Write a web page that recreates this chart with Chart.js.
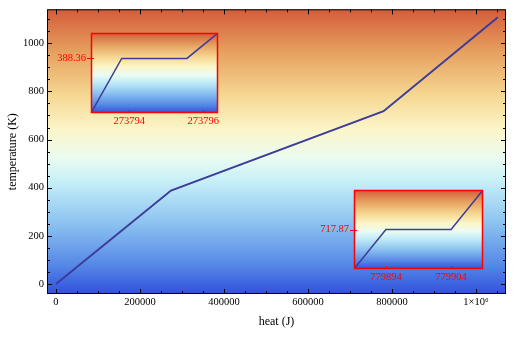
<!DOCTYPE html>
<html>
<head>
<meta charset="utf-8">
<script src="https://cdn.jsdelivr.net/npm/chart.js@4"></script>
<style>
    body { margin: 0; background: #fff; }
    #wrap { position: relative; width: 519px; height: 344px; }
    canvas { position: absolute; }
</style>
</head>
<body>
<div id="wrap">
    <canvas id="main" width="519" height="344" style="left:0;top:0"></canvas>
    <canvas id="inset1" width="175" height="109" style="left:50px;top:21px"></canvas>
    <canvas id="inset2" width="180" height="107" style="left:310px;top:178px"></canvas>
</div>
<script>
// main curve: heat (J) vs temperature (K)
const heat = [0, 273793.8, 273795.56, 779894, 779904, 1052000];
const temperature = [0, 388.36, 388.36, 717.87, 717.87, 1108];
const xTicks = [0, 200000, 400000, 600000, 800000, 1000000];
const yTicks = [0, 200, 400, 600, 800, 1000];

// zoom on first plateau
const inset1Heat = [273792.97, 273793.8, 273795.56, 273796.4];
const inset1Temp = [388.35882, 388.36, 388.36, 388.36055];
const inset1XTicks = [273794, 273796];
const inset1YTicks = [388.36];

// zoom on second plateau
const inset2Heat = [779889.1, 779894, 779904, 779908.9];
const inset2Temp = [717.8668, 717.87, 717.87, 717.8732];
const inset2XTicks = [779894, 779904];
const inset2YTicks = [717.87];

const serif = '"Liberation Serif", "Times New Roman", serif';
const lineColor = '#3d3d99';

// TemperatureMap-like background
const gradientStops = [
    [0, 'rgb(212,92,58)'],
    [0.15, 'rgb(230,160,95)'],
    [0.3, 'rgb(245,215,145)'],
    [0.42, 'rgb(252,245,200)'],
    [0.52, 'rgb(235,252,240)'],
    [0.6, 'rgb(200,240,248)'],
    [0.75, 'rgb(140,195,240)'],
    [0.9, 'rgb(85,135,230)'],
    [1, 'rgb(50,80,220)']
];

const framePlugin = {
    id: 'frame',
    beforeDraw(chart) {
        const { ctx, chartArea: a } = chart;
        const g = ctx.createLinearGradient(0, a.top, 0, a.bottom);
        gradientStops.forEach(([p, c]) => g.addColorStop(p, c));
        ctx.save();
        ctx.fillStyle = g;
        ctx.fillRect(a.left, a.top, a.right - a.left, a.bottom - a.top);
        ctx.restore();
    },
    afterDraw(chart, args, opts) {
        const { ctx, chartArea: a, scales } = chart;
        const xs = scales.x, ys = scales.y;
        ctx.save();
        ctx.strokeStyle = opts.color;
        ctx.lineWidth = opts.width;
        ctx.strokeRect(a.left + 0.5, a.top + 0.5, a.right - a.left - 1, a.bottom - a.top - 1);
        ctx.lineWidth = 1;
        ctx.beginPath();
        const tickX = (v, len) => {
            const px = Math.round(xs.getPixelForValue(v)) + 0.5;
            ctx.moveTo(px, a.bottom); ctx.lineTo(px, a.bottom - len);
            if (opts.allSides) { ctx.moveTo(px, a.top); ctx.lineTo(px, a.top + len); }
        };
        const tickY = (v, len) => {
            const py = Math.round(ys.getPixelForValue(v)) + 0.5;
            ctx.moveTo(a.left - (opts.yOut || 0), py); ctx.lineTo(a.left + len, py);
            if (opts.allSides) { ctx.moveTo(a.right, py); ctx.lineTo(a.right - len, py); }
        };
        opts.xMajor.forEach(v => tickX(v, opts.major));
        opts.yMajor.forEach(v => tickY(v, opts.major));
        if (opts.xMinor) {
            for (let v = xs.min - (xs.min % opts.xMinor); v <= xs.max; v += opts.xMinor) {
                if (!opts.xMajor.includes(v)) tickX(v, opts.minor);
            }
        }
        if (opts.yMinor) {
            for (let v = ys.min - (ys.min % opts.yMinor); v <= ys.max; v += opts.yMinor) {
                if (!opts.yMajor.includes(v)) tickY(v, opts.minor);
            }
        }
        ctx.stroke();
        ctx.restore();
    }
};

function points(xs, ys) {
    return xs.map((x, i) => ({ x: x, y: ys[i] }));
}

new Chart(document.getElementById('main'), {
    type: 'line',
    data: {
        datasets: [{
            data: points(heat, temperature),
            borderColor: lineColor,
            borderWidth: 2,
            pointRadius: 0,
            tension: 0
        }]
    },
    options: {
        responsive: false,
        animation: false,
        layout: { padding: { top: 9, right: 13, left: 0, bottom: 0 } },
        plugins: {
            legend: { display: false },
            tooltip: { enabled: false },
            frame: {
                color: '#000', width: 1, allSides: true, major: 5, minor: 3,
                xMajor: xTicks, yMajor: yTicks, xMinor: 50000, yMinor: 50
            }
        },
        scales: {
            x: {
                type: 'linear', min: -21400, max: 1071400,
                afterBuildTicks: s => { s.ticks = xTicks.map(v => ({ value: v })); },
                afterFit: s => { s.height = 50; },
                grid: { display: false, drawTicks: false },
                border: { display: false },
                ticks: {
                    color: '#000', padding: 2, maxRotation: 0, autoSkip: false,
                    font: { family: serif, size: 10.5 },
                    callback: v => v === 1000000 ? '1×10⁶' : String(v)
                },
                title: { display: true, text: 'heat (J)', color: '#000', font: { family: serif, size: 12 }, padding: 15 }
            },
            y: {
                min: -41.5, max: 1141,
                afterBuildTicks: s => { s.ticks = yTicks.map(v => ({ value: v })); },
                afterFit: s => { s.width = 47; },
                grid: { display: false, drawTicks: false },
                border: { display: false },
                ticks: { color: '#000', padding: 3, autoSkip: false, font: { family: serif, size: 10.5 }, callback: v => String(v) },
                title: { display: true, text: 'temperature (K)', color: '#000', font: { family: serif, size: 12 }, padding: 6 }
            }
        }
    },
    plugins: [framePlugin]
});

function inset(id, xsData, ysData, xt, yt, yw, xh, pad) {
    return new Chart(document.getElementById(id), {
        type: 'line',
        data: {
            datasets: [{
                data: points(xsData, ysData),
                borderColor: lineColor,
                borderWidth: 1.5,
                pointRadius: 0,
                tension: 0
            }]
        },
        options: {
            responsive: false,
            animation: false,
            layout: { padding: pad },
            plugins: {
                legend: { display: false },
                tooltip: { enabled: false },
                frame: {
                    color: '#ff0000', width: 1.5, allSides: false, major: 3, minor: 0, yOut: 4,
                    xMajor: xt, yMajor: yt
                }
            },
            scales: {
                x: {
                    type: 'linear', min: xsData[0], max: xsData[xsData.length - 1],
                    afterBuildTicks: s => { s.ticks = xt.map(v => ({ value: v })); },
                    afterFit: s => { s.height = xh; },
                    grid: { display: false, drawTicks: false },
                    border: { display: false },
                    ticks: { color: '#ff0000', padding: 2, maxRotation: 0, autoSkip: false, font: { family: serif, size: 10.5 }, callback: v => String(v) }
                },
                y: {
                    min: ysData[0], max: ysData[ysData.length - 1],
                    afterBuildTicks: s => { s.ticks = yt.map(v => ({ value: v })); },
                    afterFit: s => { s.width = yw; },
                    grid: { display: false, drawTicks: false },
                    border: { display: false },
                    ticks: { color: '#ff0000', padding: 5, autoSkip: false, font: { family: serif, size: 10.5 }, callback: v => v.toFixed(2) }
                }
            }
        },
        plugins: [framePlugin]
    });
}

inset('inset1', inset1Heat, inset1Temp, inset1XTicks, inset1YTicks, 41, 17, { top: 12, right: 7, left: 0, bottom: 0 });
inset('inset2', inset2Heat, inset2Temp, inset2XTicks, inset2YTicks, 44, 16, { top: 12, right: 7, left: 0, bottom: 0 });
</script>
</body>
</html>
